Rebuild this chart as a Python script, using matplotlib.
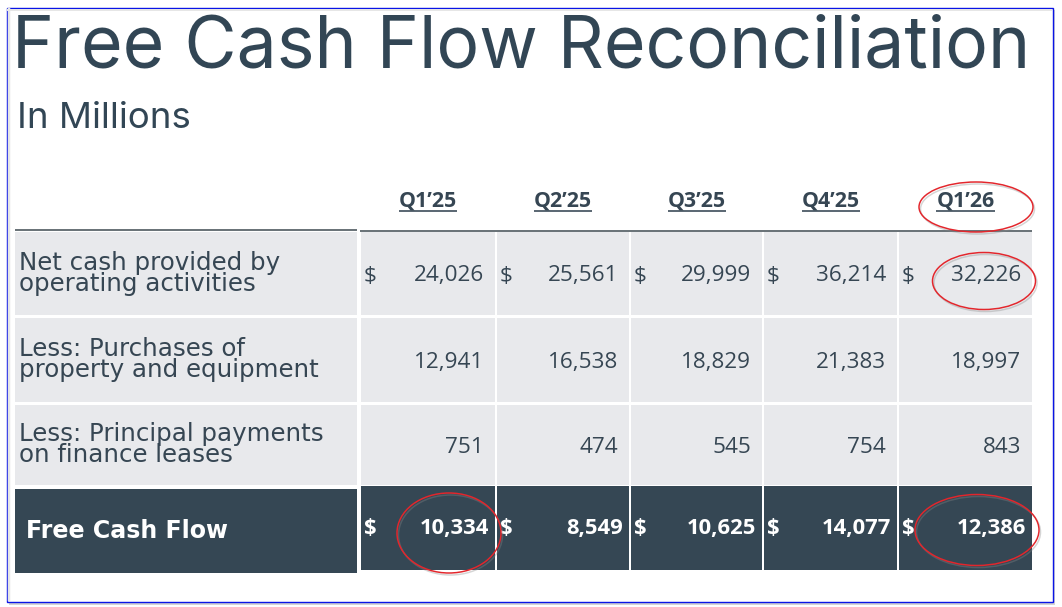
import matplotlib
matplotlib.use("Agg")
import matplotlib.pyplot as plt
from matplotlib.patches import Rectangle, Ellipse

# ---------------- data ----------------
title = "Free Cash Flow Reconciliation"
subtitle = "In Millions"
quarters = ["Q1’25", "Q2’25", "Q3’25", "Q4’25", "Q1’26"]
row_labels = [
    ["Net cash provided by", "operating activities"],
    ["Less: Purchases of", "property and equipment"],
    ["Less: Principal payments", "on finance leases"],
]
fcf_label = "Free Cash Flow"
operating_cash = [24026, 25561, 29999, 36214, 32226]
capex = [12941, 16538, 18829, 21383, 18997]
lease_payments = [751, 474, 545, 754, 843]
free_cash_flow = [10334, 8549, 10625, 14077, 12386]
dollar_rows = [True, False, False]
highlight_header = [4]                 # circled header column
highlight_cells = [(0, 4), (3, 0), (3, 4)]  # (row, col) circled values

# ---------------- layout ----------------
W, H = 1062, 607
DPI = 100
PT = 72.0 / DPI  # px -> pt

TITLE_C = "#324655"
TEXT_C = "#364653"
LIGHT = "#e8e9ec"
DARK = "#354754"
LINE_C = "#6b7479"
RED = "#e3262c"

fig = plt.figure(figsize=(W / DPI, H / DPI), dpi=DPI)
ax = fig.add_axes([0, 0, 1, 1])
ax.set_xlim(0, W)
ax.set_ylim(H, 0)
ax.axis("off")
renderer = fig.canvas.get_renderer()


def fit_size(text, target_w, family, weight="normal"):
    t = ax.text(0, 0, text, fontsize=20, family=family, weight=weight)
    w = t.get_window_extent(renderer).width
    t.remove()
    return 20 * target_w / w


# frame with shadow
ax.add_patch(Rectangle((9, 10), 1046, 595, facecolor="#d4d4d4", edgecolor="none", zorder=0))
ax.add_patch(Rectangle((6.5, 7.5), 1046, 594, facecolor="white", edgecolor="#0a14e6", lw=1.4 * PT, zorder=1))
ax.plot([8.5, 8.5], [9, 600], color="#e6e6e6", lw=2.5 * PT, zorder=1.5)
ax.plot([8, 1051], [9.5, 9.5], color="#e6e6e6", lw=2.0 * PT, zorder=1.5)

# titles
fs_title = fit_size(title, 1018, "Inter")
ax.text(12, 67, title, fontsize=fs_title, family="Inter", color=TITLE_C, va="baseline", ha="left", zorder=3)
fs_sub = fit_size(subtitle, 173, "Inter")
ax.text(17, 128, subtitle, fontsize=fs_sub, family="Inter", color=TITLE_C, va="baseline", ha="left", zorder=3)

# geometry
label_x0, label_x1 = 15, 357
cols = [(361, 495), (497, 629), (631, 762), (764, 897), (899, 1032)]
light_rows = [(232, 315), (318, 402), (405, 485)]
dark_label = (489, 573)
dark_data = (486, 570)

# header line
ax.plot([label_x0, label_x1], [230, 230], color=LINE_C, lw=2 * PT, zorder=3, solid_capstyle="butt")
ax.plot([360, 1032], [231, 231], color=LINE_C, lw=2 * PT, zorder=3, solid_capstyle="butt")

# header
fs_head = fit_size("Q1’25", 58, "Open Sans", "bold")
for (c0, c1), q in zip(cols, quarters):
    cx = (c0 + c1) / 2
    t = ax.text(cx, 207, q, fontsize=fs_head, family="Open Sans", weight="bold",
                color=TEXT_C, ha="center", va="baseline", zorder=4)
    bb = t.get_window_extent(renderer)
    ax.plot([cx - bb.width / 2, cx + bb.width / 2], [210.5, 210.5], color=TEXT_C, lw=1.6 * PT, zorder=4,
            solid_capstyle="butt")

# light rows
fs_lab = 24.5 * PT
fs_num = fit_size("24,026", 70, "Open Sans")
fs_dollar = fs_num
values = [operating_cash, capex, lease_payments]
for r, (y0, y1) in enumerate(light_rows):
    ax.add_patch(Rectangle((label_x0, y0), label_x1 - label_x0, y1 - y0, facecolor=LIGHT, edgecolor="none", zorder=2))
    cy = (y0 + y1) / 2
    ax.text(19, cy + 17, "\n".join(row_labels[r]), fontsize=fs_lab, family="DejaVu Sans", color=TEXT_C,
            va="baseline", ha="left", linespacing=0.82, zorder=4)
    for c, (c0, c1) in enumerate(cols):
        ax.add_patch(Rectangle((c0, y0), c1 - c0, y1 - y0, facecolor=LIGHT, edgecolor="none", zorder=2))
        ax.text(c1 - 11, cy + 8, f"{values[r][c]:,}", fontsize=fs_num, family="Open Sans", color=TEXT_C,
                ha="right", va="baseline", zorder=4)
        if dollar_rows[r]:
            ax.text(c0 + 3, cy + 8, "$", fontsize=fs_dollar, family="Open Sans", color=TEXT_C,
                    ha="left", va="baseline", zorder=4)

# dark row
ax.add_patch(Rectangle((label_x0, dark_label[0]), label_x1 - label_x0, dark_label[1] - dark_label[0],
                       facecolor=DARK, edgecolor="none", zorder=2))
fs_fcf_lab = fit_size(fcf_label, 202, "DejaVu Sans", "bold")
ax.text(26, 538, fcf_label, fontsize=fs_fcf_lab, family="DejaVu Sans", weight="bold", color="white",
        ha="left", va="baseline", zorder=4)
fs_fcf = fit_size("10,334", 69, "Open Sans", "bold")
for c, (c0, c1) in enumerate(cols):
    ax.add_patch(Rectangle((c0, dark_data[0]), c1 - c0, dark_data[1] - dark_data[0],
                           facecolor=DARK, edgecolor="none", zorder=2))
    ax.text(c1 - 6, 534, f"{free_cash_flow[c]:,}", fontsize=fs_fcf, family="Open Sans", weight="bold",
            color="white", ha="right", va="baseline", zorder=4)
    ax.text(c0 + 3, 534, "$", fontsize=fs_fcf, family="Open Sans", weight="bold", color="white",
            ha="left", va="baseline", zorder=4)

# red ellipses
ellipse_geom = {
    ("h", 4): (976, 207, 114, 50),
    (0, 4): (984, 281, 103, 57),
    (3, 0): (449, 533, 104, 80),
    (3, 4): (977, 530, 124, 71),
}
keys = [("h", c) for c in highlight_header] + highlight_cells
for k in keys:
    x, y, w, h = ellipse_geom[k]
    ax.add_patch(Ellipse((x + 1.5, y + 2), w, h, facecolor="none", edgecolor="#888888", lw=1.5 * PT,
                         alpha=0.35, zorder=5))
    ax.add_patch(Ellipse((x, y), w, h, facecolor="none", edgecolor=RED, lw=1.5 * PT, zorder=6))

fig.savefig("out.png", dpi=DPI)
